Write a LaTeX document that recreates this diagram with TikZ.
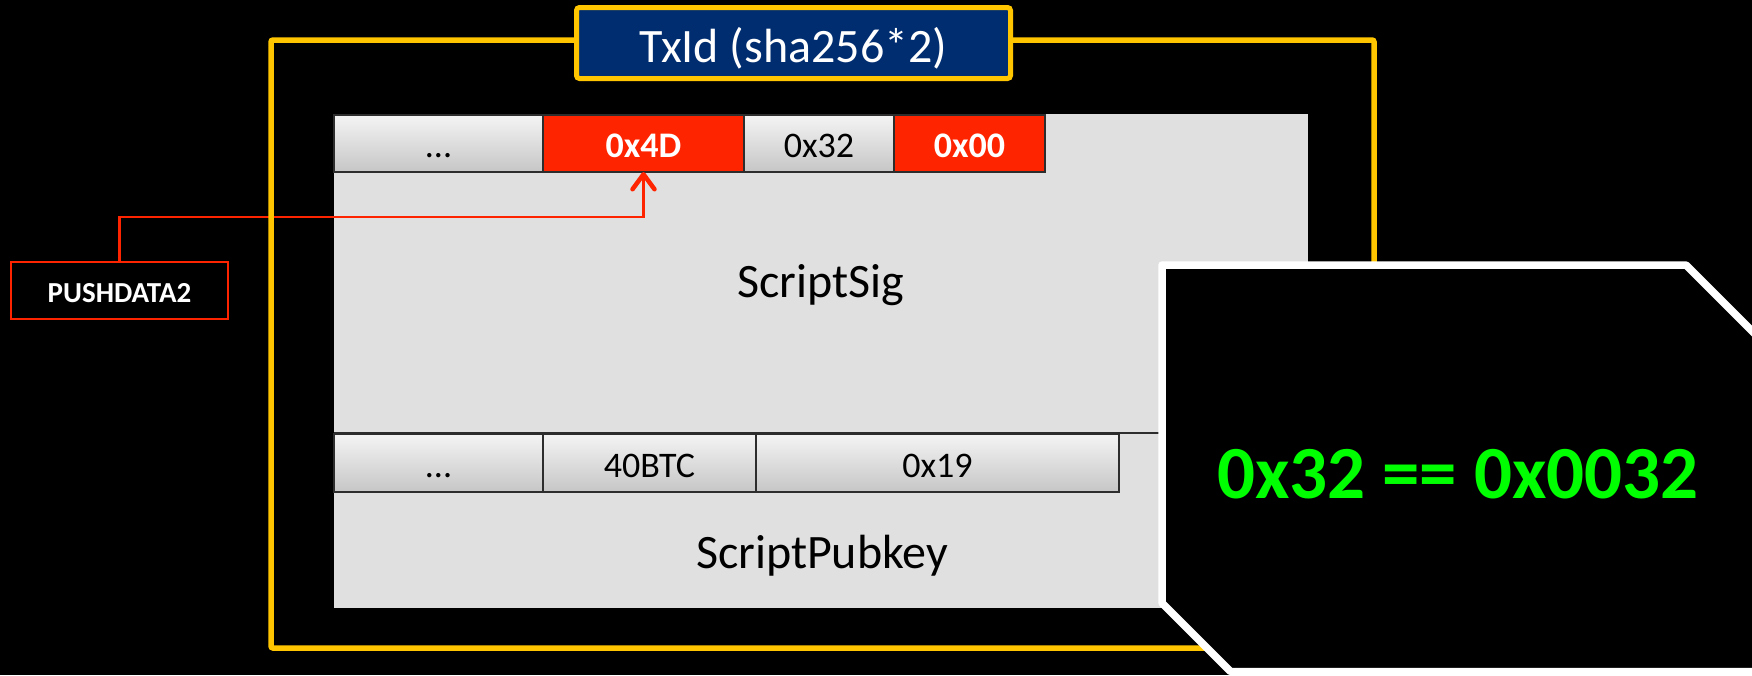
\documentclass[tikz,border=0pt]{standalone}
\usepackage{fontspec}
\setmainfont{Carlito}
\usetikzlibrary{arrows.meta}

\definecolor{frameyellow}{RGB}{255,198,0}
\definecolor{txblue}{RGB}{0,45,112}
\definecolor{hotred}{RGB}{255,36,0}
\definecolor{panelgray}{RGB}{224,224,224}
\definecolor{celltop}{RGB}{244,244,244}
\definecolor{cellbot}{RGB}{198,198,198}
\definecolor{celledge}{RGB}{45,45,45}
\definecolor{termgreen}{RGB}{0,255,0}

\begin{document}
\begin{tikzpicture}[x=1pt,y=-1pt,
  every node/.style={inner sep=0pt,outer sep=0pt},
  basecell/.style={draw=celledge,line width=2pt,anchor=north west,
    text height=28pt,text depth=0pt},
  graycell/.style={basecell,top color=celltop,bottom color=cellbot,
    font=\fontsize{36}{42}\selectfont},
  redcell/.style={basecell,fill=hotred,text=white,
    font=\fontsize{36}{42}\selectfont\bfseries},
  bigtext/.style={anchor=base,font=\fontsize{48}{56}\selectfont},
  conn/.style={hotred,line width=2.5pt,
    -{Straight Barb[length=15pt,width=22pt,line width=4.5pt,round]}}
]
\useasboundingbox (0,0) rectangle (1752,675);
\fill[black] (0,0) rectangle (1752,675);
\clip (0,0) rectangle (1752,675);

% script area
\node[fill=panelgray,minimum width=974pt,minimum height=494pt,anchor=north west]
  (panel) at (334,114) {};
\node[bigtext] (sig) at (821,297) {ScriptSig};
\node[bigtext] (pub) at (822,568) {ScriptPubkey};
\draw[celledge,line width=2pt] (334,433) -- (1160,433);

% scriptSig bytes
\node[graycell,minimum width=209pt,minimum height=57pt] (s1) at (334,115) {...};
\node[redcell,minimum width=201pt,minimum height=57pt] (x4D) at (543,115) {0x4D};
\node[graycell,minimum width=150pt,minimum height=57pt] (x32) at (744,115) {0x32};
\node[redcell,minimum width=151pt,minimum height=57pt] (x00) at (894,115) {0x00};

% scriptPubkey bytes
\node[graycell,minimum width=209pt,minimum height=58pt] (p1) at (334,434) {...};
\node[graycell,minimum width=213pt,minimum height=58pt] (btc) at (543,434) {40BTC};
\node[graycell,minimum width=363pt,minimum height=58pt] (x19) at (756,434) {0x19};

% opcode label
\node[draw=hotred,line width=2.5pt,fill=black,text=white,
  minimum width=217pt,minimum height=57pt,text height=23pt,text depth=0pt,
  font=\fontsize{29}{34}\selectfont\bfseries] (push) at (119.5,290.5) {PUSHDATA2};
\draw[conn] (push.north) -- ++(0,-45) -| (x4D.south);

% transaction frame
\draw[frameyellow,line width=5.5pt,rounded corners=2pt] (271,40) rectangle (1374,648);
\node[draw=frameyellow,line width=5pt,fill=txblue,rounded corners=3pt,
  minimum width=434pt,minimum height=71pt,text=white,
  text height=38pt,text depth=0pt,font=\fontsize{48}{54}\selectfont]
  (txid) at (793.5,43) {TxId (sha256*2)};

% comparison callout
\draw[white,line width=7.5pt,fill=black,line join=round]
  (1162,265) -- (1686,265) -- (1810,389) -- (1810,671.5)
  -- (1230.5,671.5) -- (1162,603) -- cycle;
\node[anchor=base,text=termgreen,font=\fontsize{75}{84}\selectfont\bfseries]
  (eq) at (1458,498) {0x32 == 0x0032};
\end{tikzpicture}
\end{document}
